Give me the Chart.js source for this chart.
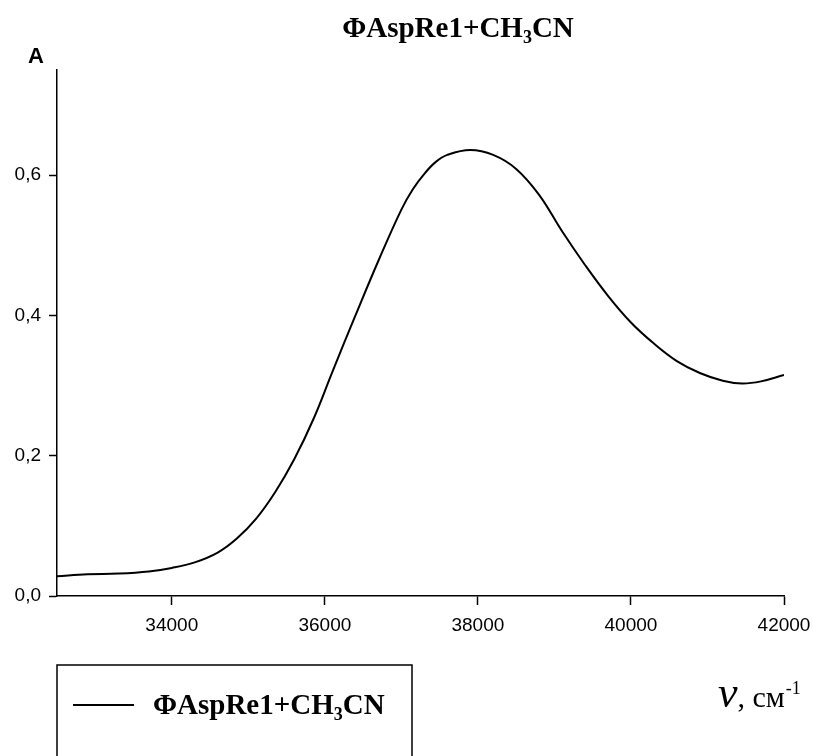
<!DOCTYPE html>
<html>
<head>
<meta charset="utf-8">
<script src="https://cdn.jsdelivr.net/npm/chart.js@4/dist/chart.umd.min.js"></script>
<style>
  html, body { margin: 0; padding: 0; background: #fff; }
  #wrap { width: 813px; height: 756px; }
</style>
</head>
<body>
<div id="wrap"><canvas id="chart" width="813" height="756"></canvas></div>
<script>
// spectrum
const wavenumber = [32500, 32900, 33300, 33700, 34000, 34300, 34600, 34850, 35100, 35350,
                    35600, 35850, 36100, 36400, 36700, 37000, 37150, 37300, 37450, 37600,
                    37900, 38200, 38500, 38800, 39100, 39400, 39700, 40000, 40300, 40600,
                    40900, 41200, 41450, 41700, 42000];
const absorbance = [0.028, 0.031, 0.032, 0.035, 0.040, 0.048, 0.062, 0.082, 0.110, 0.148,
                    0.195, 0.252, 0.320, 0.400, 0.478, 0.551, 0.580, 0.602, 0.619, 0.629,
                    0.636, 0.629, 0.609, 0.572, 0.520, 0.472, 0.428, 0.390, 0.360, 0.335,
                    0.318, 0.307, 0.303, 0.306, 0.315];
const xTicks = [34000, 36000, 38000, 40000, 42000];
const yTicks = [0, 0.2, 0.4, 0.6];
const seriesName = ['ΦAspRe1+CH', '3', 'CN'];   // middle part is a subscript

// draws "text + subscript + text" starting at x
function drawSubText(ctx, parts, x, y, size) {
    const big = 'bold ' + size + 'px "Liberation Serif", "Times New Roman", serif';
    const small = 'bold ' + Math.round(size * 0.62) + 'px "Liberation Serif", "Times New Roman", serif';
    ctx.font = big;
    ctx.fillText(parts[0], x, y);
    x += ctx.measureText(parts[0]).width;
    ctx.font = small;
    ctx.fillText(parts[1], x, y + size * 0.22);
    x += ctx.measureText(parts[1]).width;
    ctx.font = big;
    ctx.fillText(parts[2], x, y);
}

function subTextWidth(ctx, parts, size) {
    ctx.font = 'bold ' + size + 'px "Liberation Serif", serif';
    let w = ctx.measureText(parts[0]).width + ctx.measureText(parts[2]).width;
    ctx.font = 'bold ' + Math.round(size * 0.62) + 'px "Liberation Serif", serif';
    return w + ctx.measureText(parts[1]).width;
}

const decorations = {
    id: 'decorations',
    afterDraw(chart) {
        const ctx = chart.ctx;
        ctx.save();
        ctx.fillStyle = '#000';
        ctx.strokeStyle = '#000';
        ctx.textAlign = 'left';
        ctx.textBaseline = 'alphabetic';

        // title
        const tw = subTextWidth(ctx, seriesName, 29);
        drawSubText(ctx, seriesName, 458 - tw / 2, 37, 29);

        // y axis name
        ctx.font = 'bold 22px "Liberation Sans", Arial, sans-serif';
        ctx.textAlign = 'center';
        ctx.fillText('A', 36, 63);
        ctx.textAlign = 'left';

        // x axis name: ν, см-1
        ctx.font = 'italic 44px "Liberation Serif", serif';
        ctx.fillText('ν', 718, 707);
        let x = 718 + ctx.measureText('ν').width;
        ctx.font = '30px "Liberation Serif", serif';
        ctx.fillText(', см', x, 707);
        x += ctx.measureText(', см').width + 1;
        ctx.font = '18px "Liberation Serif", serif';
        ctx.fillText('-1', x, 694);

        // legend box
        ctx.lineWidth = 1.5;
        ctx.strokeRect(57, 665, 355, 140);
        ctx.lineWidth = 2;
        ctx.beginPath();
        ctx.moveTo(73, 705);
        ctx.lineTo(134, 705);
        ctx.stroke();
        drawSubText(ctx, seriesName, 153, 714, 29);
        ctx.restore();
    }
};

new Chart(document.getElementById('chart'), {
    type: 'line',
    data: {
        datasets: [{
            label: seriesName.join(''),
            data: wavenumber.map((v, i) => ({ x: v, y: absorbance[i] })),
            borderColor: '#000',
            borderWidth: 2,
            pointRadius: 0,
            fill: false,
            tension: 0.4
        }]
    },
    options: {
        responsive: false,
        animation: false,
        layout: { padding: { top: 70, right: 29, bottom: 120, left: 0 } },
        plugins: {
            legend: { display: false },
            title: { display: false },
            tooltip: { enabled: false }
        },
        scales: {
            x: {
                type: 'linear',
                min: 32500,
                max: 42000,
                afterBuildTicks: s => { s.ticks = xTicks.map(v => ({ value: v })); },
                afterFit: s => { s.height = 40; s.paddingLeft = 0; s.paddingRight = 0; },
                ticks: {
                    color: '#000',
                    font: { family: '"Liberation Sans", Arial, sans-serif', size: 19 },
                    padding: 9,
                    maxRotation: 0,
                    autoSkip: false,
                    callback: v => String(v)
                },
                grid: { drawOnChartArea: false, tickLength: 9, tickColor: '#000', tickWidth: 1.5 },
                border: { color: '#000', width: 1.5 }
            },
            y: {
                min: 0,
                max: 0.75,
                afterBuildTicks: s => { s.ticks = yTicks.map(v => ({ value: v })); },
                afterFit: s => { s.width = 57; s.paddingTop = 0; s.paddingBottom = 0; },
                ticks: {
                    color: '#000',
                    font: { family: '"Liberation Sans", Arial, sans-serif', size: 19 },
                    padding: 8,
                    callback: v => v.toFixed(1).replace('.', ',')
                },
                grid: { drawOnChartArea: false, tickLength: 8, tickColor: '#000', tickWidth: 1.5 },
                border: { color: '#000', width: 1.5 }
            }
        }
    },
    plugins: [decorations]
});
</script>
</body>
</html>
